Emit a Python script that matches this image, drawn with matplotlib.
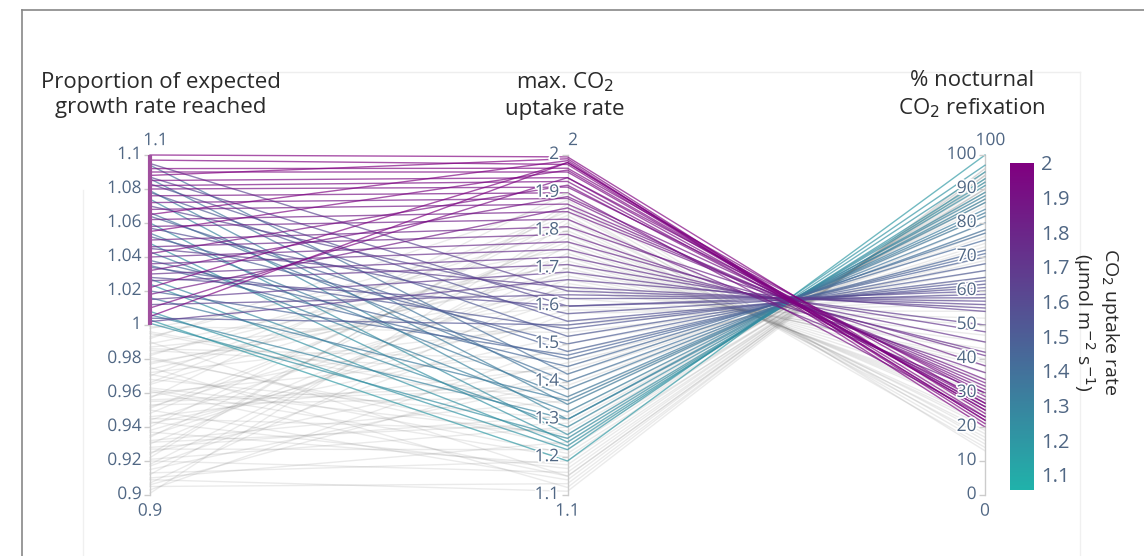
import numpy as np
import matplotlib
matplotlib.use('Agg')
import matplotlib.pyplot as plt
import matplotlib.patheffects as pe
from matplotlib.colors import LinearSegmentedColormap, Normalize
from matplotlib.cm import ScalarMappable
from matplotlib.lines import Line2D

plt.rcParams['font.family'] = ['Open Sans', 'DejaVu Sans']

# lines inside the constraint range (growth >= 1): growth, max uptake, % refixation
sel_growth = [1.100, 1.097, 1.092, 1.090, 1.088, 1.085, 1.082, 1.080, 1.076, 1.072,
              1.068, 1.065, 1.062, 1.058, 1.055, 1.050, 1.046, 1.042, 1.040, 1.036,
              1.032, 1.030, 1.026, 1.022, 1.018, 1.015, 1.010, 1.005, 1.002,
              1.095, 1.087, 1.083, 1.078, 1.070, 1.064, 1.057, 1.052, 1.045, 1.038,
              1.034, 1.028, 1.020, 1.012, 1.004,
              1.094, 1.086, 1.079, 1.074, 1.066, 1.060, 1.054, 1.048, 1.043, 1.035,
              1.027, 1.024, 1.016, 1.008, 1.003, 1.001, 1.006]
sel_uptake = [1.995, 1.975, 1.965, 1.955, 1.990, 1.940, 1.930, 1.915, 1.900, 1.885,
              1.870, 1.985, 1.850, 1.830, 1.960, 1.810, 1.790, 1.920, 1.770, 1.750,
              1.890, 1.730, 1.710, 1.980, 1.860, 1.690, 1.940, 1.980, 1.670,
              1.640, 1.600, 1.560, 1.520, 1.620, 1.480, 1.580, 1.500, 1.650, 1.460,
              1.540, 1.600, 1.470, 1.630, 1.550,
              1.420, 1.380, 1.340, 1.300, 1.400, 1.260, 1.360, 1.240, 1.320, 1.440,
              1.280, 1.230, 1.350, 1.220, 1.190, 1.250, 1.300]
sel_refix = [24, 22, 27, 25, 21, 29, 26, 30, 23, 28,
             32, 20, 34, 30, 25, 38, 36, 27, 41, 42,
             31, 45, 48, 23, 33, 50, 26, 22, 54,
             56, 60, 62, 66, 58, 70, 61, 68, 55, 72,
             64, 59, 71, 57, 63,
             77, 80, 84, 88, 78, 91, 82, 93, 86, 75,
             89, 95, 83, 97, 100, 92, 87]

# lines outside the constraint range (growth < 1)
oth_growth = [0.998, 0.995, 0.992, 0.990, 0.987, 0.985, 0.982, 0.980, 0.977, 0.975,
              0.972, 0.970, 0.968, 0.965, 0.962, 0.960, 0.957, 0.955, 0.952, 0.950,
              0.948, 0.945, 0.942, 0.940, 0.937, 0.935, 0.932, 0.930, 0.927, 0.925,
              0.922, 0.920, 0.917, 0.915, 0.912, 0.910, 0.907, 0.905, 0.903, 0.901,
              0.996, 0.983, 0.971, 0.958, 0.946, 0.934, 0.921, 0.909, 0.978, 0.953,
              0.993, 0.986, 0.974, 0.963, 0.951, 0.943, 0.938, 0.928, 0.918, 0.913,
              0.999, 0.981, 0.966, 0.956, 0.944, 0.931, 0.924, 0.906, 0.989, 0.961]
oth_uptake = [1.75, 1.32, 1.88, 1.15, 1.60, 1.42, 1.80, 1.25, 1.68, 1.12,
              1.55, 1.85, 1.30, 1.72, 1.20, 1.48, 1.90, 1.38, 1.65, 1.14,
              1.78, 1.27, 1.52, 1.83, 1.18, 1.62, 1.35, 1.70, 1.22, 1.45,
              1.87, 1.16, 1.58, 1.40, 1.76, 1.24, 1.66, 1.13, 1.50, 1.82,
              1.34, 1.73, 1.21, 1.56, 1.44, 1.79, 1.28, 1.11, 1.64, 1.36,
              1.81, 1.46, 1.69, 1.26, 1.77, 1.17, 1.59, 1.31, 1.74, 1.19,
              1.53, 1.23, 1.84, 1.39, 1.67, 1.29, 1.86, 1.43, 1.71, 1.15]
oth_refix = [28, 85, 16, 94, 52, 74, 22, 90, 40, 96,
             60, 18, 86, 34, 92, 68, 13, 78, 45, 95,
             25, 88, 64, 20, 93, 50, 82, 38, 91, 70,
             15, 94, 56, 76, 27, 89, 43, 95, 66, 19,
             83, 32, 90, 58, 72, 24, 87, 96, 47, 80,
             21, 69, 39, 89, 26, 93, 54, 86, 30, 92,
             62, 90, 17, 77, 42, 87, 14, 73, 36, 94]

axis_titles = ['Proportion of expected\ngrowth rate reached',
               'max. CO$_2$\nuptake rate',
               '% nocturnal\nCO$_2$ refixation']
ranges = [(0.9, 1.1), (1.1, 2.0), (0, 100)]
ticks = [[0.9, 0.92, 0.94, 0.96, 0.98, 1, 1.02, 1.04, 1.06, 1.08, 1.1],
         [1.1, 1.2, 1.3, 1.4, 1.5, 1.6, 1.7, 1.8, 1.9, 2],
         [0, 10, 20, 30, 40, 50, 60, 70, 80, 90, 100]]
range_labels = [('1.1', '0.9'), ('2', '1.1'), ('100', '0')]
cbar_ticks = [1.1, 1.2, 1.3, 1.4, 1.5, 1.6, 1.7, 1.8, 1.9, 2]
cmin, cmax = 1.056, 2.0

W, H = 1144, 556
fig = plt.figure(figsize=(W / 100, H / 100), dpi=100)
ax = fig.add_axes([150 / W, 1 - 495 / H, 835 / W, 340 / H])
ax.set_xlim(0, 2)
ax.set_ylim(0, 1)
ax.axis('off')

cmap = LinearSegmentedColormap.from_list('ts', ['lightseagreen', 'purple'])
norm = Normalize(cmin, cmax)

def scale(v, i):
    lo, hi = ranges[i]
    return (np.asarray(v, dtype=float) - lo) / (hi - lo)

tick_col = '#506784'
halo = [pe.withStroke(linewidth=2.5, foreground='white')]

# background (unselected) lines
for g, u, r in zip(oth_growth, oth_uptake, oth_refix):
    ax.plot([0, 1, 2], [scale(g, 0), scale(u, 1), scale(r, 2)],
            color='#777777', alpha=0.15, lw=1, clip_on=False)

# selected lines coloured by uptake
order = np.argsort(sel_uptake)
for k in order:
    ax.plot([0, 1, 2], [scale(sel_growth[k], 0), scale(sel_uptake[k], 1), scale(sel_refix[k], 2)],
            color=cmap(norm(sel_uptake[k])), alpha=0.68, lw=1.0, zorder=4, clip_on=False)

# axis lines and ticks
for i in range(3):
    ax.plot([i, i], [0, 1], color='#cccccc', lw=1, zorder=3, clip_on=False)
    ys = scale(ticks[i], i)
    ax.plot([i] * len(ys), ys, ls='none', marker=0, ms=4, color='#cccccc',
            zorder=5, clip_on=False)
    for t, y in zip(ticks[i], ys):
        ax.annotate('%g' % t, (i, y), xytext=(-6, 0), textcoords='offset points',
                    ha='right', va='center', fontsize=12.5, color=tick_col, zorder=6,
                    path_effects=halo)
    ax.annotate(range_labels[i][0], (i, 1), xytext=(4, 10), textcoords='offset points',
                ha='center', va='center', fontsize=12.5, color=tick_col, path_effects=halo)
    ax.annotate(range_labels[i][1], (i, 0), xytext=(0, -12), textcoords='offset points',
                ha='center', va='center', fontsize=12.5, color=tick_col, path_effects=halo)

# constraint range bar on first axis
ax.plot([0, 0], [scale(1.0, 0), 1], color='#a0509e', lw=3, zorder=5,
        solid_capstyle='butt', clip_on=False)

# axis titles
title_x = [161, 565, 972]
for tx, title in zip(title_x, axis_titles):
    fig.text(tx / W, 1 - 95 / H, title, ha='center', va='center', fontsize=16,
             color='#2a2a2a', linespacing=1.3)

# colorbar
cax = fig.add_axes([1010 / W, 1 - 490 / H, 24 / W, 327 / H])
cb = fig.colorbar(ScalarMappable(norm=norm, cmap=cmap), cax=cax)
cb.outline.set_visible(False)
cb.set_ticks(cbar_ticks)
cb.set_ticklabels(['%g' % t for t in cbar_ticks])
cax.tick_params(length=0, labelsize=14.5, labelcolor=tick_col, pad=5)
fig.text(1096 / W, 1 - 322 / H, 'CO$_2$ uptake rate\n(µmol m$^{-2}$ s$^{-1}$)',
         rotation=270, ha='center', va='center', fontsize=14, color='#2a2a2a',
         linespacing=1.1)

# surrounding frame
fig.add_artist(Line2D([22 / W, 1], [1 - 10 / H, 1 - 10 / H], color='#888888', lw=1.2))
fig.add_artist(Line2D([22 / W, 22 / W], [0, 1 - 10 / H], color='#888888', lw=1.2))
fig.add_artist(Line2D([240 / W, 1080 / W], [1 - 72 / H, 1 - 72 / H], color='#eeeeee', lw=1))
fig.add_artist(Line2D([83 / W, 83 / W], [0, 1 - 190 / H], color='#f0f0f0', lw=1))
fig.add_artist(Line2D([1080 / W, 1080 / W], [0, 1 - 72 / H], color='#f0f0f0', lw=1))

fig.savefig('out.png', dpi=100)
